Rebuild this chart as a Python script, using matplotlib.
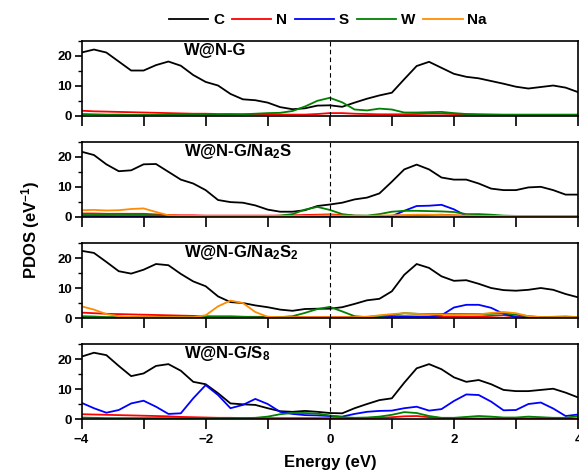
import numpy as np
import matplotlib.pyplot as plt
from matplotlib.ticker import FixedLocator

plt.rcParams['font.family'] = ['Liberation Sans', 'DejaVu Sans']
plt.rcParams['font.weight'] = 'bold'
plt.rcParams['mathtext.fontset'] = 'custom'
plt.rcParams['mathtext.rm'] = 'Liberation Sans:bold'
plt.rcParams['mathtext.it'] = 'Liberation Sans:bold'
plt.rcParams['mathtext.bf'] = 'Liberation Sans:bold'

# energy grid (eV), values every 0.2 eV
energy = np.round(np.arange(-4.0, 4.01, 0.2), 1)

panel_titles = ['W@N-G', 'W@N-G/Na$_2$S', 'W@N-G/Na$_2$S$_2$', 'W@N-G/S$_8$']
species = ['C', 'N', 'S', 'W', 'Na']
species_colors = {'C': '#000000', 'N': '#ff0000', 'S': '#0000ff',
                  'W': '#008000', 'Na': '#ff8c00'}

# --- W@N-G ---
wng_C = [21.0, 22.0, 21.0, 18.0, 15.0, 15.0, 16.8, 18.0, 16.6, 13.5, 11.2,
         10.0, 7.2, 5.4, 5.1, 4.3, 2.8, 2.1, 2.4, 3.3, 3.4, 2.9, 4.3, 5.6,
         6.7, 7.6, 12.1, 16.5, 17.9, 15.9, 13.9, 12.9, 12.4, 11.5, 10.6, 9.6,
         9.0, 9.5, 10.0, 9.3, 7.8]
wng_N = [1.6, 1.4, 1.3, 1.2, 1.1, 1.0, 0.9, 0.8, 0.7, 0.6, 0.6, 0.5, 0.5,
         0.4, 0.4, 0.4, 0.3, 0.3, 0.3, 0.5, 0.8, 0.8, 0.6, 0.5, 0.4, 0.4,
         0.4, 0.5, 0.6, 0.6, 0.5, 0.4, 0.3, 0.3, 0.2, 0.1, 0.1, 0.1, 0.1,
         0.1, 0.1]
wng_W = [0.5, 0.4, 0.3, 0.3, 0.2, 0.2, 0.2, 0.2, 0.2, 0.2, 0.2, 0.2, 0.3,
         0.4, 0.6, 0.8, 0.9, 1.5, 3.0, 4.9, 5.9, 4.4, 2.0, 1.7, 2.3, 2.0,
         1.0, 1.0, 1.1, 1.2, 0.8, 0.5, 0.4, 0.3, 0.3, 0.3, 0.3, 0.3, 0.3,
         0.3, 0.3]

# --- W@N-G/Na2S ---
na2s_C = [21.7, 20.6, 17.5, 15.2, 15.5, 17.5, 17.6, 15.0, 12.4, 11.1, 8.9,
          5.6, 4.9, 4.7, 3.8, 2.4, 1.7, 1.7, 2.2, 3.6, 4.1, 4.7, 5.8, 6.4,
          7.8, 11.7, 15.8, 17.4, 15.8, 13.1, 12.4, 12.4, 11.1, 9.4, 8.9, 8.9,
          9.8, 10.0, 8.9, 7.4, 7.4]
na2s_N = [1.1, 1.1, 1.0, 1.0, 1.0, 1.0, 0.8, 0.6, 0.5, 0.5, 0.4, 0.4, 0.4,
          0.4, 0.4, 0.4, 0.4, 0.5, 0.6, 0.7, 0.8, 0.6, 0.4, 0.3, 0.3, 0.3,
          0.4, 0.5, 0.6, 0.7, 0.5, 0.3, 0.2, 0.2, 0.2, 0.2, 0.2, 0.2, 0.2,
          0.2, 0.2]
na2s_S = [0.3, 0.3, 0.2, 0.1, 0.1, 0.1, 0.1, 0.1, 0.1, 0.1, 0.1, 0.1, 0.1,
          0.1, 0.1, 0.1, 0.1, 0.1, 0.1, 0.1, 0.1, 0.1, 0.1, 0.1, 0.1, 0.2,
          2.0, 3.6, 3.7, 4.0, 2.5, 0.3, 0.1, 0.1, 0.1, 0.1, 0.1, 0.1, 0.1,
          0.1, 0.1]
na2s_W = [0.6, 0.6, 0.6, 0.6, 0.6, 0.6, 0.5, 0.3, 0.2, 0.2, 0.2, 0.2, 0.2,
          0.2, 0.2, 0.2, 0.4, 0.9, 2.4, 3.3, 2.3, 0.9, 0.4, 0.4, 0.9, 1.7,
          2.0, 2.0, 1.9, 1.8, 1.6, 0.9, 0.9, 0.7, 0.4, 0.3, 0.3, 0.3, 0.3,
          0.3, 0.3]
na2s_Na = [2.2, 2.3, 2.1, 2.2, 2.6, 2.8, 1.6, 0.5, 0.3, 0.3, 0.3, 0.3, 0.3,
           0.3, 0.3, 0.3, 0.3, 0.3, 0.3, 0.4, 0.5, 0.4, 0.3, 0.3, 0.4, 0.5,
           0.6, 0.7, 0.7, 0.6, 0.5, 0.4, 0.3, 0.3, 0.3, 0.3, 0.3, 0.3, 0.3,
           0.3, 0.3]

# --- W@N-G/Na2S2 ---
na2s2_C = [22.4, 21.7, 18.7, 15.6, 14.8, 16.1, 18.0, 17.6, 14.7, 12.2, 10.6,
           7.2, 5.3, 5.0, 4.2, 3.6, 2.8, 2.4, 3.0, 3.1, 3.1, 3.6, 4.7, 5.9,
           6.4, 8.9, 14.4, 18.0, 16.7, 13.9, 12.4, 12.6, 11.4, 10.0, 9.3, 9.1,
           9.4, 10.0, 9.4, 8.0, 6.9]
na2s2_N = [1.8, 1.6, 1.4, 1.3, 1.2, 1.1, 1.0, 0.9, 0.8, 0.7, 0.6, 0.5, 0.5,
           0.4, 0.4, 0.4, 0.3, 0.3, 0.3, 0.3, 0.3, 0.3, 0.3, 0.4, 0.5, 0.6,
           0.6, 0.5, 0.4, 0.4, 0.4, 0.4, 0.5, 0.7, 0.9, 0.5, 0.3, 0.3, 0.4,
           0.5, 0.3]
na2s2_S = [0.1, 0.1, 0.1, 0.1, 0.1, 0.1, 0.1, 0.1, 0.1, 0.1, 0.1, 0.1, 0.1,
           0.1, 0.1, 0.1, 0.1, 0.1, 0.1, 0.1, 0.1, 0.1, 0.2, 0.3, 0.4, 0.4,
           0.4, 0.4, 0.5, 0.9, 3.5, 4.4, 4.4, 3.4, 1.4, 0.3, 0.1, 0.1, 0.1,
           0.1, 0.1]
na2s2_W = [0.6, 0.5, 0.3, 0.3, 0.3, 0.3, 0.3, 0.3, 0.3, 0.3, 0.4, 0.5, 0.5,
           0.4, 0.3, 0.3, 0.3, 0.6, 1.7, 3.0, 3.7, 2.2, 0.6, 0.3, 0.7, 1.0,
           1.6, 1.4, 1.3, 1.3, 1.3, 1.3, 1.3, 1.4, 1.6, 1.1, 0.6, 0.3, 0.3,
           0.3, 0.3]
na2s2_Na = [3.9, 2.8, 1.3, 0.6, 0.3, 0.3, 0.3, 0.3, 0.3, 0.3, 0.9, 3.9, 5.8,
            5.0, 2.0, 0.4, 0.3, 0.3, 0.3, 0.3, 0.3, 0.3, 0.3, 0.4, 0.9, 1.3,
            1.6, 1.4, 1.2, 1.1, 1.0, 1.1, 1.2, 1.7, 2.0, 1.6, 0.6, 0.3, 0.3,
            0.3, 0.3]

# --- W@N-G/S8 ---
s8_C = [20.8, 22.1, 21.3, 17.7, 14.3, 15.2, 17.7, 18.3, 16.1, 12.4, 11.6,
        8.6, 5.2, 4.9, 4.7, 3.6, 2.6, 2.4, 2.7, 2.4, 2.0, 1.9, 3.6, 5.0, 6.3,
        6.9, 12.1, 16.9, 18.3, 16.6, 13.9, 12.4, 13.0, 11.6, 9.7, 9.3, 9.3,
        9.7, 10.1, 8.8, 7.2]
s8_N = [1.6, 1.5, 1.4, 1.3, 1.2, 1.1, 1.0, 0.9, 0.7, 0.6, 0.5, 0.4, 0.4,
        0.3, 0.3, 0.3, 0.3, 0.3, 0.3, 0.3, 0.3, 0.3, 0.3, 0.3, 0.4, 0.6,
        0.9, 1.0, 0.6, 0.3, 0.2, 0.2, 0.2, 0.2, 0.2, 0.2, 0.2, 0.2, 0.2,
        0.2, 0.2]
s8_S = [5.4, 3.6, 2.1, 3.0, 5.2, 6.1, 4.1, 1.7, 1.9, 6.9, 11.3, 8.0, 3.6,
        4.7, 6.7, 5.0, 2.4, 1.7, 1.3, 1.2, 1.0, 0.8, 1.7, 2.4, 2.7, 2.8,
        3.6, 4.1, 2.8, 3.3, 6.0, 8.2, 8.0, 5.8, 2.9, 3.0, 5.0, 5.5, 3.5,
        1.0, 1.5]
s8_W = [0.5, 0.4, 0.3, 0.3, 0.3, 0.3, 0.3, 0.3, 0.3, 0.3, 0.3, 0.3, 0.3,
        0.3, 0.4, 0.8, 1.6, 2.0, 2.0, 1.8, 1.2, 0.6, 0.4, 0.5, 0.8, 1.4,
        2.3, 2.0, 1.0, 0.4, 0.4, 0.7, 1.0, 0.8, 0.5, 0.5, 0.8, 0.6, 0.4,
        0.4, 1.0]

panels = [
    {'C': wng_C, 'N': wng_N, 'W': wng_W},
    {'C': na2s_C, 'N': na2s_N, 'S': na2s_S, 'W': na2s_W, 'Na': na2s_Na},
    {'C': na2s2_C, 'N': na2s2_N, 'S': na2s2_S, 'W': na2s2_W, 'Na': na2s2_Na},
    {'C': s8_C, 'N': s8_N, 'S': s8_S, 'W': s8_W},
]


def style_axis(ax, show_xlabels):
    ax.set_xlim(-4, 4)
    ax.set_ylim(0, 25)
    ax.set_xticks([-4, -2, 0, 2, 4])
    ax.xaxis.set_minor_locator(FixedLocator([-3, -1, 1, 3]))
    ax.set_yticks([0, 10, 20])
    ax.yaxis.set_minor_locator(FixedLocator([5, 15, 25]))
    ax.tick_params(axis='x', which='both', direction='out', length=7,
                   width=1.2, labelsize=9.5, labelbottom=show_xlabels, pad=4)
    ax.tick_params(axis='y', which='major', direction='out', length=5,
                   width=1.2, labelsize=9.5, pad=2)
    ax.tick_params(axis='y', which='minor', direction='out', length=3,
                   width=1.0)
    for lbl in ax.get_xticklabels() + ax.get_yticklabels():
        lbl.set_fontweight('bold')
    for sp in ax.spines.values():
        sp.set_linewidth(1.2)


fig = plt.figure(figsize=(5.79, 4.74), dpi=100)

left, width, height = 0.1408, 0.8575, 0.1582
bottoms = [0.7563, 0.5426, 0.3291, 0.1160]

handles = {}
for i, (data, title) in enumerate(zip(panels, panel_titles)):
    ax = fig.add_axes([left, bottoms[i], width, height])
    for sp in species:
        if sp in data:
            line, = ax.plot(energy, data[sp], color=species_colors[sp],
                            lw=1.3, label=sp, solid_joinstyle='round')
            handles[sp] = line
    ax.axvline(0, color='k', lw=0.8, ls=(0, (4, 3)))
    ax.text(0.206, 0.87, title, transform=ax.transAxes, fontsize=12,
            fontweight='bold', ha='left', va='center')
    style_axis(ax, i == len(panels) - 1)

fig.legend([handles[s] for s in species], species, loc='center',
           bbox_to_anchor=(0.566, 0.958), ncol=5, frameon=False,
           handlelength=2.6, handletextpad=0.3, columnspacing=0.5,
           borderpad=0, prop={'weight': 'bold', 'size': 11})

fig.text(0.052, 0.515, 'PDOS (eV$^{-1}$)', rotation=90, ha='center',
         va='center', fontsize=12, fontweight='bold')
fig.text(0.570, 0.025, 'Energy (eV)', ha='center', va='center',
         fontsize=12, fontweight='bold')

fig.savefig('out.png', dpi=100)
